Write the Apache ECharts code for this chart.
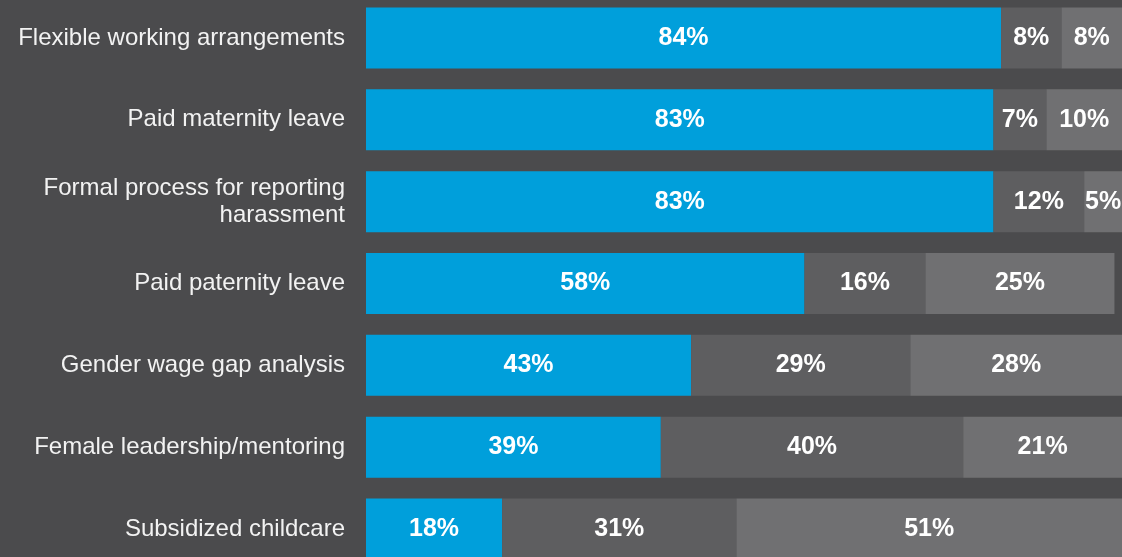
<!DOCTYPE html>
<html>
<head>
<meta charset="utf-8">
<script src="https://cdn.jsdelivr.net/npm/echarts@6/dist/echarts.min.js"></script>
<style>
  html, body { margin: 0; padding: 0; background: #4b4b4d; overflow: hidden; }
  #chart { width: 1122px; height: 573px; margin-top: -3px; }
</style>
</head>
<body>
<div id="chart"></div>
<script>
const categories = [
  'Flexible working arrangements',
  'Paid maternity leave',
  'Formal process for reporting\nharassment',
  'Paid paternity leave',
  'Gender wage gap analysis',
  'Female leadership/mentoring',
  'Subsidized childcare'
];
const yesValues = [84, 83, 83, 58, 43, 39, 18];
const noValues = [8, 7, 12, 16, 29, 40, 31];
const otherValues = [8, 10, 5, 25, 28, 21, 51];

const chart = echarts.init(document.getElementById('chart'));

const barLabel = {
  show: true,
  position: 'inside',
  color: '#ffffff',
  fontFamily: 'Liberation Sans, Arial, sans-serif',
  fontWeight: 'bold',
  fontSize: 25,
  formatter: p => p.value + '%'
};

function makeSeries(name, data, color) {
  return {
    name: name,
    type: 'bar',
    stack: 'total',
    data: data,
    barWidth: 61,
    itemStyle: { color: color },
    label: barLabel,
    emphasis: { disabled: true }
  };
}

chart.setOption({
  animation: false,
  backgroundColor: '#4b4b4d',
  grid: { left: 366, right: 0, top: 0, bottom: 0, containLabel: false },
  xAxis: {
    type: 'value',
    min: 0,
    max: 100,
    show: false
  },
  yAxis: {
    type: 'category',
    inverse: true,
    data: categories,
    axisLine: { show: false },
    axisTick: { show: false },
    splitLine: { show: false },
    axisLabel: {
      color: '#f2f2f2',
      fontFamily: 'Liberation Sans, Arial, sans-serif',
      fontSize: 24,
      lineHeight: 27,
      margin: 21,
      align: 'right'
    }
  },
  series: [
    makeSeries('Yes', yesValues, '#009fdb'),
    makeSeries('No', noValues, '#5e5e60'),
    makeSeries('Other', otherValues, '#707072')
  ]
});
</script>
</body>
</html>
